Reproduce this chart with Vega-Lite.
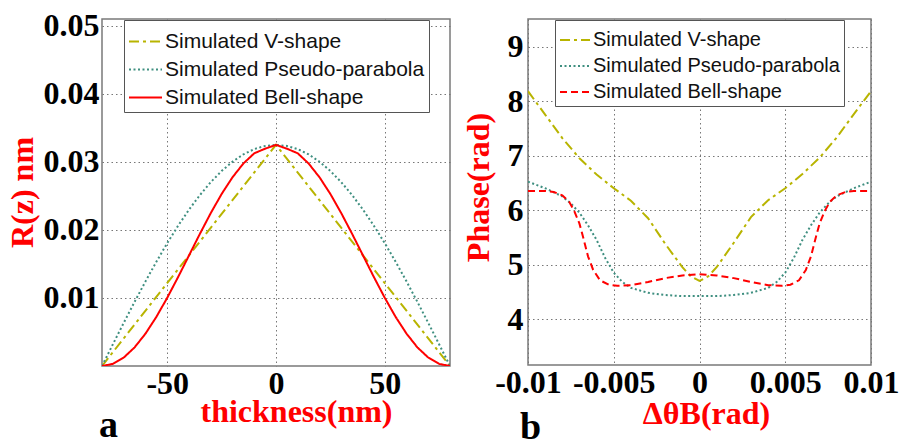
{
  "$schema": "https://vega.github.io/schema/vega-lite/v6.json",
  "background": "white",
  "padding": {"left": 5, "top": 9, "right": 0, "bottom": 0},
  "spacing": 10,
  "resolve": {"scale": {"color": "independent", "strokeDash": "independent"}},
  "config": {
    "view": {"stroke": "#7a7a7a", "strokeWidth": 1.5},
    "axis": {
      "labelFont": "Liberation Serif", "labelFontWeight": "bold", "labelFontSize": 32, "labelColor": "black",
      "labelOverlap": false, "labelFlush": false,
      "titleFont": "Liberation Serif", "titleFontWeight": "bold", "titleFontSize": 32, "titleColor": "#ff0000",
      "domain": false, "ticks": false, "grid": true, "gridColor": "#777777", "gridDash": [1.5, 3], "gridWidth": 1, "gridOpacity": 1
    },
    "legend": {
      "orient": "none", "strokeColor": "#555555", "fillColor": "white", "padding": 4,
      "labelFont": "Liberation Sans", "labelColor": "#111111", "labelLimit": 0, "symbolType": "stroke", "symbolStrokeWidth": 2,
      "labelOffset": 2, "title": null
    },
    "title": {"font": "Liberation Serif", "fontWeight": "bold", "fontSize": 38, "color": "black"}
  },
  "hconcat": [
    {
      "width": 348, "height": 347,
      "title": {"text": "a", "orient": "bottom", "anchor": "start", "frame": "group", "baseline": "alphabetic", "offset": 10, "dx": -3},
      "data": {"values": [
        {"t": -80, "r": 0, "s": "V"}, {"t": 0, "r": 0.0325, "s": "V"}, {"t": 80, "r": 0, "s": "V"},
        {"t": -80, "r": 0, "s": "P"}, {"t": -75, "r": 0.00319, "s": "P"}, {"t": -70, "r": 0.00634, "s": "P"}, {"t": -65, "r": 0.00943, "s": "P"},
        {"t": -60, "r": 0.01244, "s": "P"}, {"t": -55, "r": 0.01532, "s": "P"}, {"t": -50, "r": 0.01806, "s": "P"}, {"t": -45, "r": 0.02062, "s": "P"},
        {"t": -40, "r": 0.02298, "s": "P"}, {"t": -35, "r": 0.02512, "s": "P"}, {"t": -30, "r": 0.02702, "s": "P"}, {"t": -25, "r": 0.02866, "s": "P"},
        {"t": -20, "r": 0.03003, "s": "P"}, {"t": -15, "r": 0.0311, "s": "P"}, {"t": -10, "r": 0.03188, "s": "P"}, {"t": -5, "r": 0.03234, "s": "P"},
        {"t": 0, "r": 0.0325, "s": "P"}, {"t": 5, "r": 0.03234, "s": "P"}, {"t": 10, "r": 0.03188, "s": "P"}, {"t": 15, "r": 0.0311, "s": "P"},
        {"t": 20, "r": 0.03003, "s": "P"}, {"t": 25, "r": 0.02866, "s": "P"}, {"t": 30, "r": 0.02702, "s": "P"}, {"t": 35, "r": 0.02512, "s": "P"},
        {"t": 40, "r": 0.02298, "s": "P"}, {"t": 45, "r": 0.02062, "s": "P"}, {"t": 50, "r": 0.01806, "s": "P"}, {"t": 55, "r": 0.01532, "s": "P"},
        {"t": 60, "r": 0.01244, "s": "P"}, {"t": 65, "r": 0.00943, "s": "P"}, {"t": 70, "r": 0.00634, "s": "P"}, {"t": 75, "r": 0.00319, "s": "P"},
        {"t": 80, "r": 0, "s": "P"},
        {"t": -80, "r": 0, "s": "B"}, {"t": -75, "r": 0.00031, "s": "B"}, {"t": -70, "r": 0.00124, "s": "B"}, {"t": -65, "r": 0.00274, "s": "B"},
        {"t": -60, "r": 0.00476, "s": "B"}, {"t": -55, "r": 0.00722, "s": "B"}, {"t": -50, "r": 0.01003, "s": "B"}, {"t": -45, "r": 0.01308, "s": "B"},
        {"t": -40, "r": 0.01625, "s": "B"}, {"t": -35, "r": 0.01942, "s": "B"}, {"t": -30, "r": 0.02247, "s": "B"}, {"t": -25, "r": 0.02528, "s": "B"},
        {"t": -20, "r": 0.02774, "s": "B"}, {"t": -15, "r": 0.02976, "s": "B"}, {"t": -10, "r": 0.03126, "s": "B"}, {"t": -5, "r": 0.03194, "s": "B"},
        {"t": 0, "r": 0.0325, "s": "B"}, {"t": 5, "r": 0.03194, "s": "B"}, {"t": 10, "r": 0.03126, "s": "B"}, {"t": 15, "r": 0.02976, "s": "B"},
        {"t": 20, "r": 0.02774, "s": "B"}, {"t": 25, "r": 0.02528, "s": "B"}, {"t": 30, "r": 0.02247, "s": "B"}, {"t": 35, "r": 0.01942, "s": "B"},
        {"t": 40, "r": 0.01625, "s": "B"}, {"t": 45, "r": 0.01308, "s": "B"}, {"t": 50, "r": 0.01003, "s": "B"}, {"t": 55, "r": 0.00722, "s": "B"},
        {"t": 60, "r": 0.00476, "s": "B"}, {"t": 65, "r": 0.00274, "s": "B"}, {"t": 70, "r": 0.00124, "s": "B"}, {"t": 75, "r": 0.00031, "s": "B"},
        {"t": 80, "r": 0, "s": "B"}
      ]},
      "mark": {"type": "line", "strokeWidth": 2, "clip": true},
      "encoding": {
        "x": {"field": "t", "type": "quantitative", "scale": {"domain": [-80, 80], "nice": false, "zero": false},
          "axis": {"values": [-50, 0, 50], "labelExpr": "'' + datum.value", "labelPadding": 2, "title": "thickness(nm)",
            "titleX": 194, "titleY": 55, "titleBaseline": "alphabetic", "titleAlign": "center"}},
        "y": {"field": "r", "type": "quantitative", "scale": {"domain": [0, 0.051], "nice": false},
          "axis": {"values": [0.01, 0.02, 0.03, 0.04, 0.05], "labelExpr": "'' + datum.value", "labelPadding": 3, "title": "R(z) nm",
            "titleX": -70, "titleY": 173, "titleAngle": -90, "titleBaseline": "alphabetic", "titleAlign": "center"}},
        "color": {"field": "s", "type": "nominal",
          "scale": {"domain": ["V", "P", "B"], "range": ["#b8b400", "#3f8f80", "#ff0000"]},
          "legend": {"legendX": 22, "legendY": 1, "labelFontSize": 21, "symbolSize": 1089, "rowPadding": -4.5,
            "labelExpr": "datum.label == 'V' ? 'Simulated V-shape' : datum.label == 'P' ? 'Simulated Pseudo-parabola' : 'Simulated Bell-shape'"}},
        "strokeDash": {"field": "s", "type": "nominal",
          "scale": {"domain": ["V", "P", "B"], "range": [[10, 4, 3, 4], [2, 2.5], [1, 0]]},
          "legend": {"legendX": 22, "legendY": 1, "labelFontSize": 21, "symbolSize": 1089, "rowPadding": -4.5,
            "labelExpr": "datum.label == 'V' ? 'Simulated V-shape' : datum.label == 'P' ? 'Simulated Pseudo-parabola' : 'Simulated Bell-shape'"}}
      }
    },
    {
      "width": 343, "height": 346,
      "title": {"text": "b", "orient": "bottom", "anchor": "start", "frame": "group", "baseline": "alphabetic", "offset": 10, "dx": -8},
      "data": {"values": [
        {"d": -0.01, "p": 8.18, "s": "V"}, {"d": -0.009, "p": 7.75, "s": "V"}, {"d": -0.008, "p": 7.32, "s": "V"}, {"d": -0.007, "p": 6.95, "s": "V"},
        {"d": -0.006, "p": 6.65, "s": "V"}, {"d": -0.005, "p": 6.4, "s": "V"}, {"d": -0.004, "p": 6.17, "s": "V"}, {"d": -0.003, "p": 5.85, "s": "V"},
        {"d": -0.002, "p": 5.38, "s": "V"}, {"d": -0.001, "p": 4.95, "s": "V"}, {"d": -0.0005, "p": 4.78, "s": "V"}, {"d": 0, "p": 4.7, "s": "V"},
        {"d": 0.0005, "p": 4.78, "s": "V"}, {"d": 0.001, "p": 4.95, "s": "V"}, {"d": 0.002, "p": 5.4, "s": "V"}, {"d": 0.003, "p": 5.87, "s": "V"},
        {"d": 0.004, "p": 6.18, "s": "V"}, {"d": 0.005, "p": 6.4, "s": "V"}, {"d": 0.006, "p": 6.66, "s": "V"}, {"d": 0.007, "p": 6.96, "s": "V"},
        {"d": 0.008, "p": 7.33, "s": "V"}, {"d": 0.009, "p": 7.76, "s": "V"}, {"d": 0.01, "p": 8.18, "s": "V"},
        {"d": -0.01, "p": 6.52, "s": "P"}, {"d": -0.009, "p": 6.4, "s": "P"}, {"d": -0.008, "p": 6.25, "s": "P"}, {"d": -0.0075, "p": 6.12, "s": "P"},
        {"d": -0.007, "p": 5.95, "s": "P"}, {"d": -0.0065, "p": 5.72, "s": "P"}, {"d": -0.006, "p": 5.45, "s": "P"}, {"d": -0.0055, "p": 5.12, "s": "P"},
        {"d": -0.005, "p": 4.85, "s": "P"}, {"d": -0.0045, "p": 4.68, "s": "P"}, {"d": -0.004, "p": 4.57, "s": "P"}, {"d": -0.003, "p": 4.48, "s": "P"},
        {"d": -0.002, "p": 4.44, "s": "P"}, {"d": -0.001, "p": 4.42, "s": "P"}, {"d": 0, "p": 4.42, "s": "P"}, {"d": 0.001, "p": 4.42, "s": "P"},
        {"d": 0.002, "p": 4.44, "s": "P"}, {"d": 0.003, "p": 4.48, "s": "P"}, {"d": 0.004, "p": 4.57, "s": "P"}, {"d": 0.0045, "p": 4.68, "s": "P"},
        {"d": 0.005, "p": 4.85, "s": "P"}, {"d": 0.0055, "p": 5.12, "s": "P"}, {"d": 0.006, "p": 5.45, "s": "P"}, {"d": 0.0065, "p": 5.72, "s": "P"},
        {"d": 0.007, "p": 5.95, "s": "P"}, {"d": 0.0075, "p": 6.12, "s": "P"}, {"d": 0.008, "p": 6.25, "s": "P"}, {"d": 0.009, "p": 6.4, "s": "P"},
        {"d": 0.01, "p": 6.52, "s": "P"},
        {"d": -0.01, "p": 6.35, "s": "B"}, {"d": -0.009, "p": 6.35, "s": "B"}, {"d": -0.0085, "p": 6.33, "s": "B"}, {"d": -0.008, "p": 6.27, "s": "B"},
        {"d": -0.0076, "p": 6.15, "s": "B"}, {"d": -0.0073, "p": 5.98, "s": "B"}, {"d": -0.007, "p": 5.75, "s": "B"}, {"d": -0.0068, "p": 5.52, "s": "B"},
        {"d": -0.0065, "p": 5.15, "s": "B"}, {"d": -0.0062, "p": 4.9, "s": "B"}, {"d": -0.0058, "p": 4.71, "s": "B"}, {"d": -0.0053, "p": 4.63, "s": "B"},
        {"d": -0.0048, "p": 4.61, "s": "B"}, {"d": -0.004, "p": 4.62, "s": "B"}, {"d": -0.003, "p": 4.68, "s": "B"}, {"d": -0.002, "p": 4.75, "s": "B"},
        {"d": -0.001, "p": 4.8, "s": "B"}, {"d": 0, "p": 4.82, "s": "B"}, {"d": 0.001, "p": 4.8, "s": "B"}, {"d": 0.002, "p": 4.75, "s": "B"},
        {"d": 0.003, "p": 4.68, "s": "B"}, {"d": 0.004, "p": 4.62, "s": "B"}, {"d": 0.0048, "p": 4.61, "s": "B"}, {"d": 0.0053, "p": 4.63, "s": "B"},
        {"d": 0.0058, "p": 4.71, "s": "B"}, {"d": 0.0062, "p": 4.9, "s": "B"}, {"d": 0.0065, "p": 5.15, "s": "B"}, {"d": 0.0068, "p": 5.52, "s": "B"},
        {"d": 0.007, "p": 5.75, "s": "B"}, {"d": 0.0073, "p": 5.98, "s": "B"}, {"d": 0.0076, "p": 6.15, "s": "B"}, {"d": 0.008, "p": 6.27, "s": "B"},
        {"d": 0.0085, "p": 6.33, "s": "B"}, {"d": 0.009, "p": 6.35, "s": "B"}, {"d": 0.01, "p": 6.35, "s": "B"}
      ]},
      "mark": {"type": "line", "strokeWidth": 2, "clip": true},
      "encoding": {
        "x": {"field": "d", "type": "quantitative", "scale": {"domain": [-0.01, 0.01], "nice": false, "zero": false},
          "axis": {"values": [-0.01, -0.005, 0, 0.005, 0.01], "labelExpr": "'' + datum.value", "labelPadding": 2, "title": "ΔθB(rad)",
            "titleX": 178, "titleY": 58, "titleBaseline": "alphabetic", "titleAlign": "center"}},
        "y": {"field": "p", "type": "quantitative", "scale": {"domain": [3.156, 9.505], "nice": false, "zero": false},
          "axis": {"values": [4, 5, 6, 7, 8, 9], "labelPadding": 5, "title": "Phase(rad)",
            "titleX": -40, "titleY": 168, "titleAngle": -90, "titleBaseline": "alphabetic", "titleAlign": "center"}},
        "color": {"field": "s", "type": "nominal",
          "scale": {"domain": ["V", "P", "B"], "range": ["#b8b400", "#3f8f80", "#ff0000"]},
          "legend": {"legendX": 27, "legendY": 1, "labelFontSize": 20, "symbolSize": 900, "rowPadding": -5.5,
            "labelExpr": "datum.label == 'V' ? 'Simulated V-shape' : datum.label == 'P' ? 'Simulated Pseudo-parabola' : 'Simulated Bell-shape'"}},
        "strokeDash": {"field": "s", "type": "nominal",
          "scale": {"domain": ["V", "P", "B"], "range": [[10, 4, 3, 4], [2, 2.5], [7, 4]]},
          "legend": {"legendX": 27, "legendY": 1, "labelFontSize": 20, "symbolSize": 900, "rowPadding": -5.5,
            "labelExpr": "datum.label == 'V' ? 'Simulated V-shape' : datum.label == 'P' ? 'Simulated Pseudo-parabola' : 'Simulated Bell-shape'"}}
      }
    }
  ]
}
